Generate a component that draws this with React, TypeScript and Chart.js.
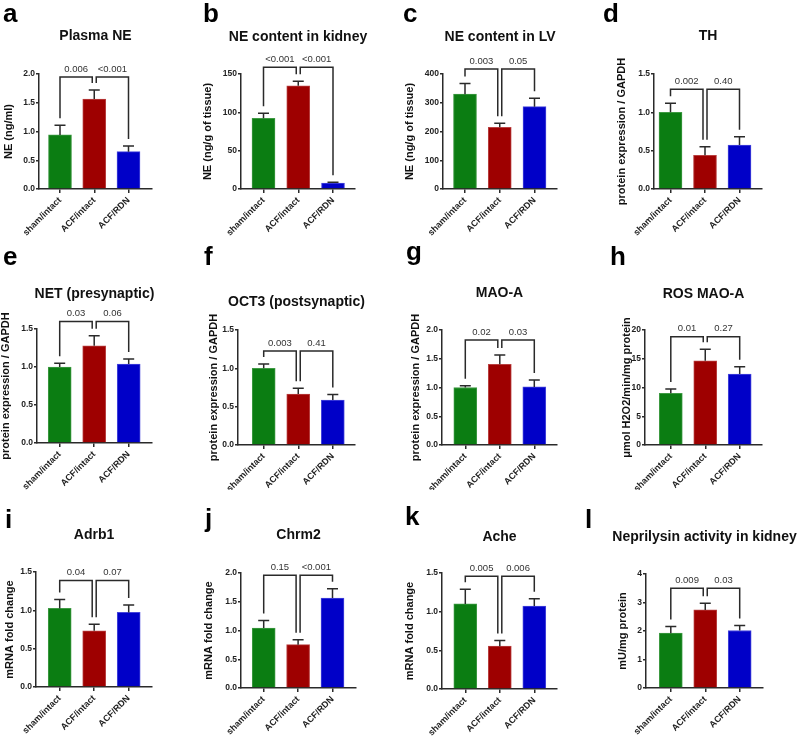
import React, { useEffect, useRef } from "react";
import { Chart, registerables } from "chart.js";

Chart.register(...registerables);
Chart.defaults.font.family = '"Liberation Sans", Arial, Helvetica, sans-serif';

// ---------------- data ----------------
const groups = ["sham/intact", "ACF/intact", "ACF/RDN"];

const plasmaNE = [0.94, 1.565, 0.65];
const plasmaNE_sem = [0.17, 0.155, 0.1];
const kidneyNE = [92.2, 134.7, 7.8];
const kidneyNE_sem = [6.5, 5.7, 0.9];
const lvNE = [330, 214.6, 286.3];
const lvNE_sem = [37.2, 13.9, 29.2];
const thProt = [1.0, 0.44, 0.574];
const thProt_sem = [0.118, 0.112, 0.108];
const netProt = [1.0, 1.28, 1.04];
const netProt_sem = [0.05, 0.13, 0.065];
const oct3Prot = [1.0, 0.665, 0.587];
const oct3Prot_sem = [0.057, 0.075, 0.073];
const maoaProt = [1.0, 1.403, 1.01];
const maoaProt_sem = [0.03, 0.162, 0.12];
const rosMaoa = [9.0, 14.66, 12.35];
const rosMaoa_sem = [0.74, 1.98, 1.25];
const adrb1 = [1.025, 0.734, 0.973];
const adrb1_sem = [0.115, 0.083, 0.095];
const chrm2 = [1.043, 0.753, 1.565];
const chrm2_sem = [0.133, 0.087, 0.162];
const ache = [1.1, 0.554, 1.072];
const ache_sem = [0.19, 0.073, 0.095];
const neprilysin = [1.925, 2.74, 2.016];
const neprilysin_sem = [0.235, 0.23, 0.174];

const panelMeans = [plasmaNE, kidneyNE, lvNE, thProt, netProt, oct3Prot, maoaProt, rosMaoa, adrb1, chrm2, ache, neprilysin];
const panelSems = [plasmaNE_sem, kidneyNE_sem, lvNE_sem, thProt_sem, netProt_sem, oct3Prot_sem, maoaProt_sem, rosMaoa_sem, adrb1_sem, chrm2_sem, ache_sem, neprilysin_sem];

const panelLetters = ["a", "b", "c", "d", "e", "f", "g", "h", "i", "j", "k", "l"];
const panelTitles = [
  "Plasma NE", "NE content in kidney", "NE content in LV", "TH",
  "NET (presynaptic)", "OCT3 (postsynaptic)", "MAO-A", "ROS MAO-A",
  "Adrb1", "Chrm2", "Ache", "Neprilysin activity in kidney",
];
const yAxisTitles = [
  "NE (ng/ml)", "NE (ng/g of tissue)", "NE (ng/g of tissue)", "protein expression / GAPDH",
  "protein expression / GAPDH", "protein expression / GAPDH", "protein expression / GAPDH", "μmol H2O2/min/mg protein",
  "mRNA fold change", "mRNA fold change", "mRNA fold change", "mU/mg protein",
];
const yMaxValues = [2, 150, 400, 1.5, 1.5, 1.5, 2, 20, 1.5, 2, 1.5, 4];
const yStepValues = [0.5, 50, 100, 0.5, 0.5, 0.5, 0.5, 5, 0.5, 0.5, 0.5, 1];
const pValueLabels = [
  ["0.006", "<0.001"], ["<0.001", "<0.001"], ["0.003", "0.05"], ["0.002", "0.40"],
  ["0.03", "0.06"], ["0.003", "0.41"], ["0.02", "0.03"], ["0.01", "0.27"],
  ["0.04", "0.07"], ["0.15", "<0.001"], ["0.005", "0.006"], ["0.009", "0.03"],
];
const bracketHeights = [1.95, 158.7, 417, 1.3, 1.6, 1.226, 1.826, 18.84, 1.39, 1.96, 1.457, 3.5];

// ---------------- layout (page pixels) ----------------
const colLeft = [0, 180, 380, 580];
const colWidth = [200, 220, 220, 220];
const rowTop = [0, 240, 490];
const rowHeight = [245, 250, 246];
const areaL = [39, 241, 443, 654, 37, 238, 442, 645, 36, 241, 442, 646];
const areaR = [152, 355, 557, 762, 152, 355, 557, 762, 152, 356, 557, 763];
const areaT = [74, 74, 74, 74, 329, 330, 330, 330, 572, 573, 573, 574];
const areaB = [189, 189, 189, 189, 443, 445, 445, 445, 687, 688, 689, 688];
const firstCenter = [60, 263.5, 465, 670.5, 59.7, 263.7, 465.3, 670.8, 59.7, 263.7, 465.3, 670.8];
const lastCenter = [128.5, 333, 534.5, 739.5, 128.7, 332.8, 534.3, 739.7, 128.7, 332.5, 534.3, 739.7];
const yTitleX = [9.3, 208, 410, 622, 6, 214, 416, 627, 10, 209, 410, 623];
const titleY = [36, 37, 37, 36, 294, 302, 293, 294, 535, 535, 537, 537];
const letterX = [3, 203, 403, 603, 3, 204, 406, 610, 5, 205, 405, 585];
const letterBase = [22, 22, 22, 22, 265, 265, 260, 265, 528, 527, 525, 528];

const barFill = ["#0b7d12", "#9e0000", "#0000c8"];
const barEdge = ["#3f9a44", "#b94040", "#4646dc"];
const ink = "#2a2a2a";

function makeDecor(i: number, cLeft: number, cTop: number) {
  return {
    id: "decor" + i,
    afterDatasetsDraw(chart: any) {
      const ctx = chart.ctx;
      const xs = chart.scales.x;
      const ys = chart.scales.y;
      const m = panelMeans[i];
      const e = panelSems[i];
      ctx.save();
      ctx.strokeStyle = ink;
      ctx.lineWidth = 1.5;
      ctx.lineCap = "butt";
      ctx.lineJoin = "miter";
      for (let k = 0; k < 3; k++) {
        const cx = xs.getPixelForValue(k);
        const y0 = ys.getPixelForValue(m[k]);
        const y1 = ys.getPixelForValue(m[k] + e[k]);
        ctx.beginPath();
        ctx.moveTo(cx, y0);
        ctx.lineTo(cx, y1);
        ctx.moveTo(cx - 5.5, y1);
        ctx.lineTo(cx + 5.5, y1);
        ctx.stroke();
      }
      const yb = ys.getPixelForValue(bracketHeights[i]);
      const pairs = [[0, 1], [1, 2]];
      ctx.font = '9.5px "Liberation Sans", Arial, sans-serif';
      ctx.fillStyle = "#333";
      ctx.textAlign = "center";
      ctx.textBaseline = "middle";
      pairs.forEach(([p, q], k) => {
        const x1 = xs.getPixelForValue(p) + (k === 1 ? 2 : 0);
        const x2 = xs.getPixelForValue(q) - (k === 0 ? 2 : 0);
        const l1 = ys.getPixelForValue(m[p] + e[p]) - 7;
        const l2 = ys.getPixelForValue(m[q] + e[q]) - 7;
        ctx.beginPath();
        ctx.moveTo(x1, l1);
        ctx.lineTo(x1, yb);
        ctx.lineTo(x2, yb);
        ctx.lineTo(x2, l2);
        ctx.stroke();
        ctx.fillText(pValueLabels[i][k], (x1 + x2) / 2, yb - 8);
      });
      ctx.restore();
    },
    afterDraw(chart: any) {
      const ctx = chart.ctx;
      const ca = chart.chartArea;
      ctx.save();
      ctx.fillStyle = "#111";
      ctx.font = 'bold 14px "Liberation Sans", Arial, sans-serif';
      ctx.textAlign = "center";
      ctx.textBaseline = "middle";
      ctx.fillText(panelTitles[i], (ca.left + ca.right) / 2, titleY[i] - cTop);
      ctx.fillStyle = "#000";
      ctx.font = 'bold 26px "Liberation Sans", Arial, sans-serif';
      ctx.textAlign = "left";
      ctx.textBaseline = "alphabetic";
      ctx.fillText(panelLetters[i], letterX[i] - cLeft, letterBase[i] - cTop);
      ctx.restore();
    },
  };
}

function Panel({ i }: { i: number }) {
  const ref = useRef<HTMLCanvasElement>(null);
  const col = i % 4;
  const row = Math.floor(i / 4);
  const cLeft = colLeft[col];
  const cTop = rowTop[row];
  const W = colWidth[col];
  const H = rowHeight[row];

  useEffect(() => {
    const left = areaL[i] - cLeft;
    const right = areaR[i] - cLeft;
    const top = areaT[i] - cTop;
    const bottom = areaB[i] - cTop;
    const sp = (lastCenter[i] - firstCenter[i]) / 2;
    const xMin = -(firstCenter[i] - areaL[i]) / sp;
    const xMax = 2 + (areaR[i] - lastCenter[i]) / sp;
    const step = yStepValues[i];
    const dec = Number.isInteger(step) ? 0 : 1;
    const titlePad = Math.max(0, yTitleX[i] - cLeft - 5.5);

    const chart = new Chart(ref.current as HTMLCanvasElement, {
      type: "bar",
      data: {
        datasets: [
          {
            data: panelMeans[i].map((v, k) => ({ x: k, y: v })),
            backgroundColor: barFill,
            borderColor: barEdge,
            borderWidth: 1,
            barThickness: 23,
          },
        ],
      },
      options: {
        responsive: false,
        animation: false,
        devicePixelRatio: 1,
        events: [],
        layout: { padding: { left: 0, right: W - right, top: top, bottom: 0 } },
        plugins: { legend: { display: false }, tooltip: { enabled: false }, title: { display: false } },
        scales: {
          x: {
            type: "linear",
            min: xMin,
            max: xMax,
            offset: false,
            afterBuildTicks: (s: any) => {
              s.ticks = groups.map((_, k) => ({ value: k }));
            },
            afterFit: (s: any) => {
              s.height = H - bottom;
            },
            ticks: {
              callback: (v: any) => groups[v] ?? "",
              autoSkip: false,
              minRotation: 45,
              maxRotation: 45,
              padding: 2,
              color: "#222",
              font: { size: 9, weight: "bold" },
            },
            grid: {
              display: true,
              offset: false,
              drawOnChartArea: false,
              drawTicks: true,
              tickLength: 4,
              color: ink,
              lineWidth: 1.5,
            },
            border: { display: true, color: ink, width: 1.5 },
          },
          y: {
            type: "linear",
            min: 0,
            max: yMaxValues[i],
            afterFit: (s: any) => {
              s.width = left;
            },
            ticks: {
              stepSize: step,
              callback: (v: any) => Number(v).toFixed(dec),
              padding: 1,
              color: "#222",
              font: { size: 8.5, weight: "bold" },
            },
            grid: { display: true, drawOnChartArea: false, drawTicks: true, tickLength: 3, color: ink, lineWidth: 1.5 },
            border: { display: true, color: ink, width: 1.5 },
            title: {
              display: true,
              text: yAxisTitles[i],
              color: "#111",
              font: { size: 11, weight: "bold", lineHeight: 1 },
              padding: { top: titlePad, bottom: 0 },
            },
          },
        },
      },
      plugins: [makeDecor(i, cLeft, cTop)],
    } as any);
    return () => chart.destroy();
  }, [i]);

  return (
    <div style={{ position: "absolute", left: cLeft, top: cTop, width: W, height: H }}>
      <canvas ref={ref} width={W} height={H} style={{ display: "block", width: W, height: H }} />
    </div>
  );
}

export default function App() {
  return (
    <div style={{ position: "absolute", left: 0, top: 0, width: 800, height: 736, background: "#fff", overflow: "hidden" }}>
      {panelMeans.map((_, i) => (
        <Panel key={i} i={i} />
      ))}
    </div>
  );
}
